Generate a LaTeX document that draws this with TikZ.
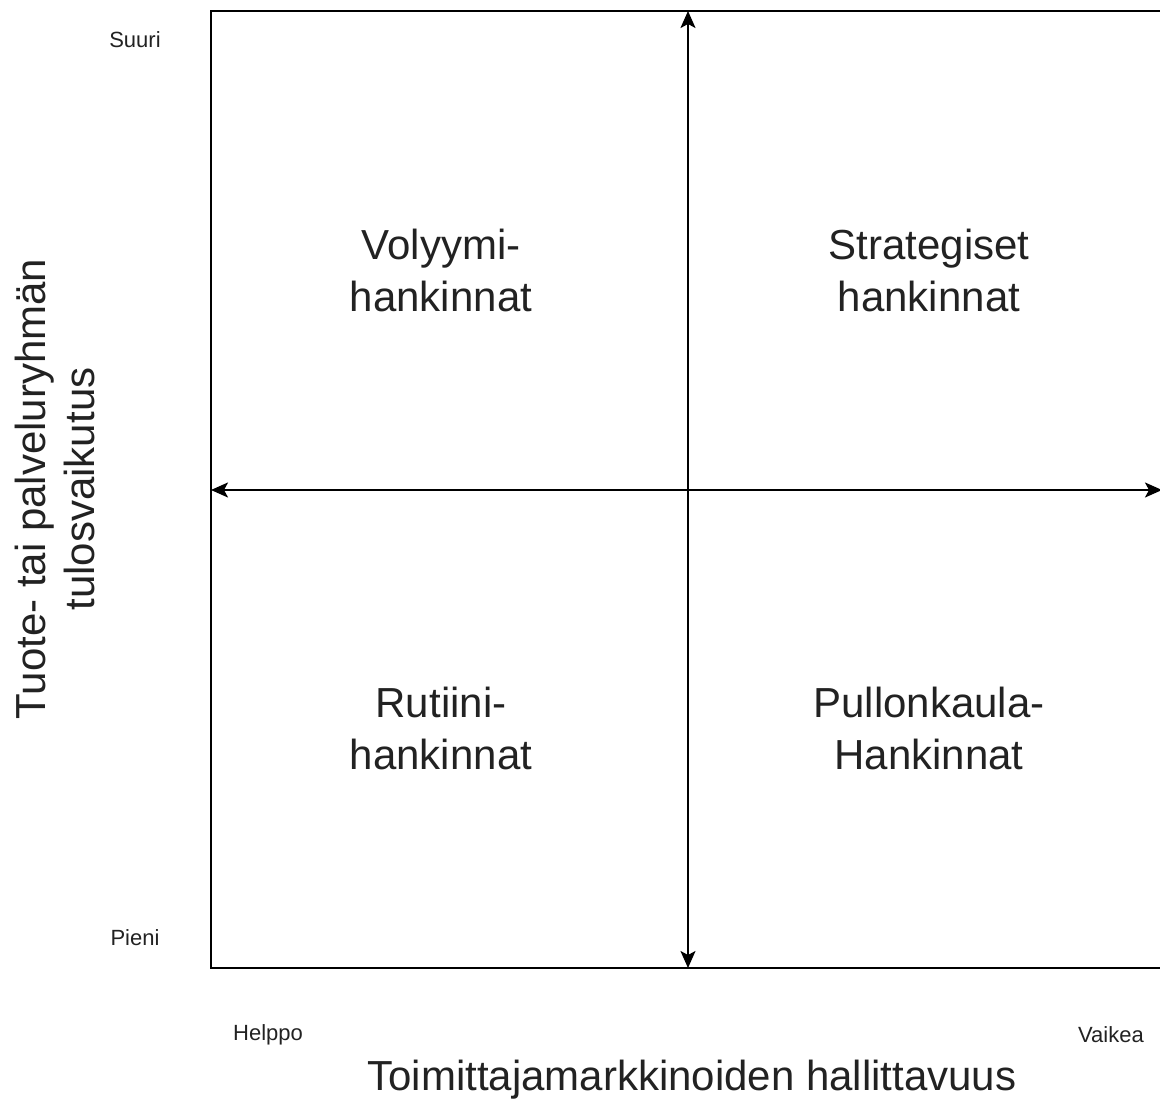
\documentclass[tikz,border=0pt]{standalone}
\usepackage{fontspec}
\setmainfont{Liberation Sans}
\usetikzlibrary{arrows.meta}
\definecolor{txt}{HTML}{222222}
\tikzset{
  big/.style={font=\fontsize{42}{52}\selectfont, text=txt, align=center, inner sep=0pt},
  small/.style={font=\fontsize{22}{26}\selectfont, text=txt, inner sep=0pt},
  axisline/.style={line width=2pt, black},
  tip/.style={Stealth[length=17pt,width=15pt,inset=4pt]},
  biarrow/.style={line width=2pt, black, {Stealth[length=17pt,width=15pt,inset=4pt]}-{Stealth[length=17pt,width=15pt,inset=4pt]}}
}
\begin{document}
\begin{tikzpicture}[x=1pt,y=-1pt]
\useasboundingbox (0,0) rectangle (1160,1102);
\begin{scope}
\clip (0,0) rectangle (1160,1102);
\draw[axisline] (211,11) rectangle (1168,968);
\coordinate (top) at (688,11);
\coordinate (bot) at (688,968);
\coordinate (lft) at (211,490);
\coordinate (rgt) at (1162,490);
\draw[biarrow] (top) -- (bot);
\draw[biarrow] (lft) -- (rgt);
\end{scope}
\node[big] (q1) at (441,270) {Volyymi-\\hankinnat};
\node[big] (q2) at (929,270) {Strategiset\\hankinnat};
\node[big] (q3) at (441,728) {Rutiini-\\hankinnat};
\node[big] (q4) at (929,728) {Pullonkaula-\\Hankinnat};
\node[big, rotate=90, font=\fontsize{42}{49}\selectfont] (ylab) at (55,489) {Tuote- tai palveluryhmän\\tulosvaikutus};
\node[big] (xlab) at (692,1080) {Toimittajamarkkinoiden hallittavuus};
\node[small] (suuri) at (135,40) {Suuri};
\node[small] (pieni) at (135,938) {Pieni};
\node[small] (helppo) at (268,1035) {Helppo};
\node[small] (vaikea) at (1111,1035) {Vaikea};
\end{tikzpicture}
\end{document}
